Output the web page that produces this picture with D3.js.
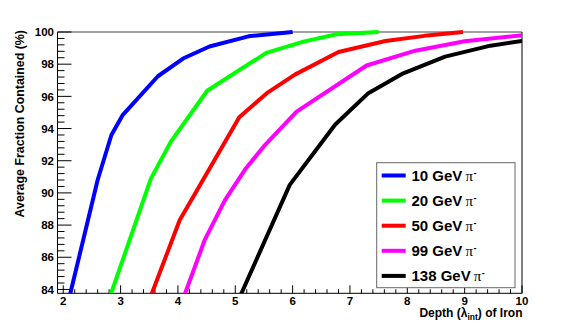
<!DOCTYPE html>
<html>
<head>
<meta charset="utf-8">
<script src="https://cdnjs.cloudflare.com/ajax/libs/d3/7.8.5/d3.min.js"></script>
<style>
body { margin:0; background:#fff; }
text { font-family: "Liberation Sans", Arial, sans-serif; font-weight: bold; }
</style>
</head>
<body>
<div id="chart"></div>
<script>
// depth in lambda_int, fraction contained in %
var depth10  = [2.12, 2.6, 2.84, 3.04, 3.65, 4.09, 4.55, 5.23, 6.0];
var frac10   = [83.7, 90.8, 93.6, 94.85, 97.25, 98.35, 99.1, 99.73, 100];
var depth20  = [2.83, 3.53, 3.88, 4.51, 5.54, 6.19, 6.77, 7.5];
var frac20   = [83.7, 90.9, 93.2, 96.35, 98.7, 99.4, 99.86, 100];
var depth50  = [3.54, 4.03, 5.07, 5.55, 6.04, 6.8, 7.62, 8.3, 8.97];
var frac50   = [83.7, 88.3, 94.7, 96.2, 97.35, 98.76, 99.44, 99.76, 100];
var depth99  = [4.12, 4.47, 4.82, 5.17, 5.5, 6.07, 7.29, 8.14, 9.0, 10];
var frac99   = [83.7, 87.1, 89.55, 91.45, 92.9, 95.05, 97.92, 98.84, 99.42, 99.8];
var depth138 = [5.10, 5.95, 6.74, 7.32, 7.93, 8.66, 9.45, 10];
var frac138  = [83.7, 90.5, 94.24, 96.2, 97.43, 98.47, 99.15, 99.44];

var energies = ["10", "20", "50", "99", "138"];
var colors = ["#0000ff", "#00ff00", "#ff0000", "#ff00ff", "#000000"];
var xTicks = [2, 3, 4, 5, 6, 7, 8, 9, 10];
var yTicks = [84, 86, 88, 90, 92, 94, 96, 98, 100];

var series = [
    {depth: depth10, frac: frac10},
    {depth: depth20, frac: frac20},
    {depth: depth50, frac: frac50},
    {depth: depth99, frac: frac99},
    {depth: depth138, frac: frac138}
];

var width = 581, height = 327;
var fLeft = 57.5, fRight = 522, fTop = 32, fBottom = 293.3;

var svg = d3.select("#chart")
    .append("svg")
    .attr("width", width)
    .attr("height", height)

var x = d3.scaleLinear().domain([1.9, 10]).range([fLeft, fRight]);
var y = d3.scaleLinear().domain([83.76, 100]).range([fBottom, fTop]);

svg.append("defs").append("clipPath")
    .attr("id", "frameclip")
    .append("rect")
    .attr("x", fLeft)
    .attr("y", 0)
    .attr("width", fRight - fLeft)
    .attr("height", fBottom)

// gray line at 100 %
svg.append("line")
    .attr("x1", fLeft)
    .attr("x2", fRight)
    .attr("y1", y(100))
    .attr("y2", y(100))
    .style("stroke", "#808080")
    .style("stroke-width", 1.4)

// frame: left, bottom, right
svg.append("path")
    .attr("d", "M" + fLeft + "," + fTop + "V" + fBottom + "H" + fRight + "V" + fTop)
    .style("fill", "none")
    .style("stroke", "#000")
    .style("stroke-width", 1)

// x ticks
var xMinor = d3.range(2, 10.001, 0.2);
svg.selectAll("line.xminor")
    .data(xMinor)
    .enter().append("line")
    .attr("class", "xminor")
    .attr("x1", function(d){ return x(d); })
    .attr("x2", function(d){ return x(d); })
    .attr("y1", fBottom)
    .attr("y2", function(d){ return Math.abs(d - Math.round(d)) < 0.01 ? fBottom - 8 : fBottom - 4; })
    .style("stroke", "#000")

svg.selectAll("text.xlab")
    .data(xTicks)
    .enter().append("text")
    .attr("class", "xlab")
    .attr("x", function(d){ return x(d); })
    .attr("y", 304.7)
    .attr("text-anchor", "middle")
    .style("font-size", "11.5px")
    .text(function(d){ return d; })

// y ticks
var yMinor = d3.range(84, 100.001, 0.4);
svg.selectAll("line.yminor")
    .data(yMinor)
    .enter().append("line")
    .attr("class", "yminor")
    .attr("x1", fLeft)
    .attr("x2", function(d){ return Math.abs((d - 84) / 2 - Math.round((d - 84) / 2)) < 0.01 ? fLeft + 14 : fLeft + 7; })
    .attr("y1", function(d){ return y(d); })
    .attr("y2", function(d){ return y(d); })
    .style("stroke", "#000")

svg.selectAll("text.ylab")
    .data(yTicks)
    .enter().append("text")
    .attr("class", "ylab")
    .attr("x", 54)
    .attr("y", function(d){ return y(d) + 4.2; })
    .attr("text-anchor", "end")
    .style("font-size", "11.5px")
    .text(function(d){ return d; })

// axis titles
var xt = svg.append("text")
    .attr("x", 522.5)
    .attr("y", 316.5)
    .attr("text-anchor", "end")
    .style("font-size", "12px")
xt.append("tspan").text("Depth (\u03bb");
xt.append("tspan").attr("dy", 3).style("font-size", "8.5px").text("int");
xt.append("tspan").attr("dy", -3).text(") of Iron");

svg.append("text")
    .attr("transform", "translate(24,30) rotate(-90)")
    .attr("text-anchor", "end")
    .style("font-size", "12.4px")
    .text("Average Fraction Contained (%)")

// curves
var line = d3.line()
    .x(function(d){ return x(d[0]); })
    .y(function(d){ return y(d[1]); });

var g = svg.append("g").attr("clip-path", "url(#frameclip)");
series.forEach(function(s, i){
    g.append("path")
        .datum(d3.zip(s.depth, s.frac))
        .attr("d", line)
        .style("fill", "none")
        .style("stroke", colors[i])
        .style("stroke-width", 4)
        .style("stroke-linejoin", "round")
});

// legend
var lx = 376.7, ly = 162.7, lw = 138.3, lh = 125;
svg.append("rect")
    .attr("x", lx)
    .attr("y", ly)
    .attr("width", lw)
    .attr("height", lh)
    .style("fill", "#fff")
    .style("stroke", "#666")
    .style("stroke-width", 1)

energies.forEach(function(e, i){
    var yy = 175.5 + i * 25.1;
    svg.append("line")
        .attr("x1", 381.7)
        .attr("x2", 405.7)
        .attr("y1", yy)
        .attr("y2", yy)
        .style("stroke", colors[i])
        .style("stroke-width", 4)
    var t = svg.append("text")
        .attr("x", 411.5)
        .attr("y", yy + 5.2)
        .style("font-size", "15px")
    t.append("tspan").text(e + " GeV");
    t.append("tspan").attr("dx", 3).style("font-weight", "normal").style("font-family", "Liberation Serif, serif").text("\u03c0");
    t.append("tspan").attr("dx", 0.5).attr("dy", -5).style("font-size", "9px").text("-");
});
</script>
</body>
</html>
